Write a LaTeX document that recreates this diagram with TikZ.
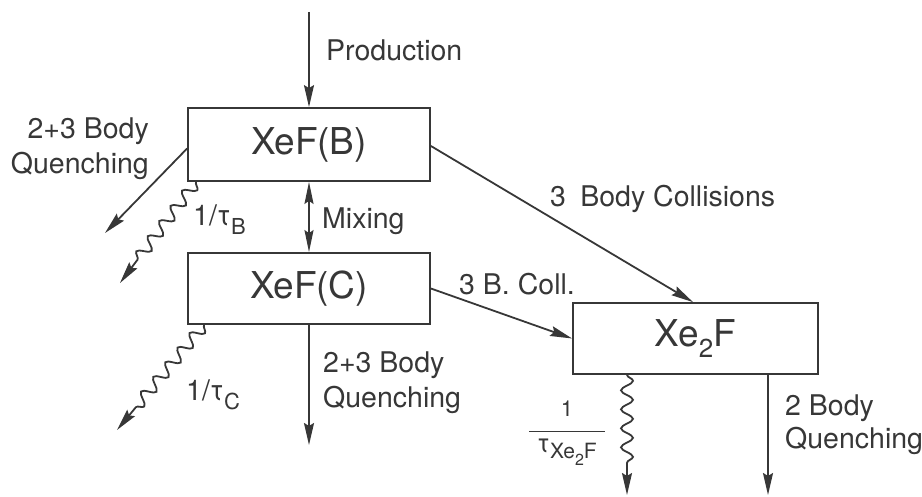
\documentclass[tikz,border=0pt]{standalone}
\usepackage{fontspec}
\setmainfont{TeX Gyre Heros}
\usetikzlibrary{arrows.meta,decorations.pathmorphing}
\definecolor{ink}{RGB}{55,55,55}
\newcommand{\lowr}[2]{\raisebox{-0.3em}{\fontsize{#1}{#1}\selectfont #2}}
\begin{document}
\begin{tikzpicture}[x=1pt,y=-1pt,
  box/.style={draw=ink, line width=1.8pt, inner sep=0pt, text=ink,
    font=\fontsize{37}{37}\selectfont},
  lab/.style={inner sep=0pt, text=ink, font=\fontsize{28.5}{35}\selectfont},
  tip/.style={-{Stealth[length=22pt,width=10pt,inset=3pt]}},
  arr/.style={draw=ink, line width=1.8pt, tip},
  wavy/.style={arr, decorate, decoration={snake, amplitude=6pt,
    segment length=19pt, post length=24pt}}]
\useasboundingbox (0,0) rectangle (922,497);
% boxes
\node[box, minimum width=242pt, minimum height=73pt] (B) at (309,144.5) {XeF(B)};
\node[box, minimum width=242pt, minimum height=71pt] (C) at (309,288.5) {XeF(C)};
\node[box, minimum width=245pt, minimum height=71pt] (X) at (695.5,338.5) {Xe\lowr{26pt}{2}F};
% free ends
\coordinate (p0) at (309,12);
\coordinate (qB) at (105,233);
\coordinate (wB) at (120,283);
\coordinate (wC) at (117,430);
\coordinate (qC) at (309,445);
\coordinate (wX) at (627,495);
\coordinate (qX) at (768,495);
% connectors
\draw[arr] (p0) -- (B.north);
\draw[arr] ([yshift=-4pt]B.west) -- (qB);
\draw[wavy] ([xshift=9pt]B.south west) -- (wB);
\draw[draw=ink, line width=1.8pt,
  {Stealth[length=22pt,width=9pt,inset=3pt]}-{Stealth[length=22pt,width=9pt,inset=3pt]}]
  (B.south) -- (C.north);
\draw[arr] ([yshift=-1.5pt]B.east) -- ([xshift=-2.5pt]X.north);
\draw[arr] (C.east) -- (X.west);
\draw[wavy] ([xshift=17pt]C.south west) -- (wC);
\draw[arr] (C.south) -- (qC);
\draw[wavy] (X.south west -| wX) -- (wX);
\draw[arr] (X.south west -| qX) -- (qX);
% labels
\node[lab, anchor=north west] (lp) at (326,40) {Production};
\node[lab, anchor=north east, align=right] (lq1) at (149,118) {2+3 Body\\Quenching};
\node[lab, anchor=north west] (ltb) at (193,205) {1/τ\lowr{22pt}{B}};
\node[lab, anchor=north west] (lm) at (322,208) {Mixing};
\node[lab, anchor=north west] (ltc) at (186,380) {1/τ\lowr{22pt}{C}};
\node[lab, anchor=north west, align=left] (lq2) at (323,352) {2+3 Body\\Quenching};
\node[lab, anchor=north west] (lbc) at (550,185) {3\hspace{0.5em}Body Collisions};
\node[lab, anchor=north west] (lbc2) at (459,273) {3 B. Coll.};
\node[lab, anchor=north west, align=left, font=\fontsize{28.5}{33}\selectfont] (lq3) at (785,395) {2 Body\\Quenching};
\node[lab, align=center, font=\fontsize{22}{22}\selectfont] (fr) at (567,433)
  {1\\[-6pt]\rule{76pt}{1.8pt}\\[-2pt]{\fontsize{26}{26}\selectfont τ}\lowr{21pt}{Xe\lowr{16pt}{2}F}};
\end{tikzpicture}
\end{document}
